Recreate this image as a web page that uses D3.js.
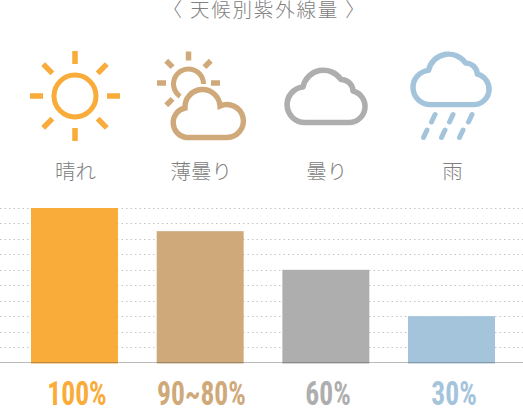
<!DOCTYPE html>
<html><head><meta charset="utf-8">
<script src="https://cdn.jsdelivr.net/npm/d3@7"></script>
<style>html,body{margin:0;padding:0;background:#fff}svg{display:block}</style></head>
<body><div id="c"></div>
<script>
const categories = ["晴れ","薄曇り","曇り","雨"];
const uvValues = [100,85,60,30];
const valueLabels = ["100%","90~80%","60%","30%"];
const colors = ["#f9ac3a","#cfa97a","#aeaeae","#a4c4dc"];
const gridTicks = [10,20,30,40,50,60,70,80,90,100];
const title = "〈 天候別紫外線量 〉";

const W=523,H=413;
const svg=d3.select("#c").append("svg").attr("width",W).attr("height",H);
const jp='"Noto Sans CJK JP","Noto Sans",sans-serif';
const y=d3.scaleLinear().domain([0,100]).range([362.5,208]);
const x=d3.scaleBand().domain(categories).range([31,495]).paddingInner(0.308).paddingOuter(0);

svg.append("g").selectAll("line").data(gridTicks).join("line")
 .attr("x1",0).attr("x2",W).attr("y1",d=>Math.round(y(d))+.5).attr("y2",d=>Math.round(y(d))+.5)
 .attr("stroke","#c4c4c4").attr("stroke-width",1).attr("stroke-dasharray","1.5 3");

svg.append("g").selectAll("rect").data(uvValues).join("rect")
 .attr("x",(d,i)=>x(categories[i])).attr("width",x.bandwidth())
 .attr("y",d=>y(d)).attr("height",d=>y(0)-y(d)+1)
 .attr("fill",(d,i)=>colors[i]);

svg.append("line").attr("x1",0).attr("x2",W).attr("y1",362.5).attr("y2",362.5)
 .attr("stroke","#555").attr("stroke-opacity",.4).attr("stroke-width",1);

svg.append("text").text(title).attr("x",264.5).attr("y",17).attr("text-anchor","middle")
 .attr("font-family",jp).attr("font-weight",300).attr("font-size",19.5).attr("letter-spacing",1.8).attr("fill","#808080");

svg.append("g").selectAll("text").data(categories).join("text").text(d=>d)
 .attr("x",d=>x(d)+x.bandwidth()/2+1).attr("y",179).attr("text-anchor","middle")
 .attr("font-family",jp).attr("font-weight",300).attr("font-size",20.5).attr("fill","#808080");

const lx=[77,201.5,328,454];
svg.append("g").selectAll("text").data(valueLabels).join("text")
 .attr("transform",(d,i)=>`translate(${lx[i]},404.5) scale(0.92,1.1)`)
 .text(d=>d).attr("text-anchor","middle")
 .attr("font-family",'"Liberation Sans Narrow","Roboto Condensed","Liberation Sans",sans-serif')
 .attr("font-weight",700).attr("font-size",30).attr("fill",(d,i)=>colors[i]);

function rays(g,cx,cy,r0,r1,angles,col,w){
 g.selectAll("line").data(angles).join("line")
  .attr("x1",a=>cx+r0*Math.cos(a*Math.PI/180)).attr("y1",a=>cy+r0*Math.sin(a*Math.PI/180))
  .attr("x2",a=>cx+r1*Math.cos(a*Math.PI/180)).attr("y2",a=>cy+r1*Math.sin(a*Math.PI/180))
  .attr("stroke",col).attr("stroke-width",w);
}
// sun
const s=svg.append("g");
rays(s,75,96,32,45,[0,45,90,135,180,225,270,315],colors[0],5.5);
s.append("circle").attr("cx",75).attr("cy",96).attr("r",21).attr("fill","none").attr("stroke",colors[0]).attr("stroke-width",5);

// cloud outline: local units 84 x 57
const cloudPath="M21 54.5 A17.8 17.8 0 0 1 19 19 A21 21 0 0 1 57 11.5 A12 12 0 0 1 69 23 A16 16 0 0 1 65 54.5 Z";
function cloud(cx,cy,sx,sy,col){
 svg.append("path").attr("d",cloudPath).attr("transform",`translate(${cx},${cy}) scale(${sx},${sy})`)
  .attr("fill","#fff").attr("stroke",col).attr("stroke-width",5.6).attr("stroke-linejoin","round");
}
// partly cloudy
const p=svg.append("g");
const arc=d3.arc().innerRadius(12.5).outerRadius(17.5).startAngle(-2.55).endAngle(1.57);
p.append("path").attr("d",arc()).attr("transform","translate(188.5,84)").attr("fill",colors[1]);
rays(p,188.5,83,22.5,31.5,[0,-45,-90,-135,135,180],colors[1],5.5);
const c2="M18 47.5 A15 15 0 0 1 17 18 A17.5 17.5 0 0 1 52 16 A16.5 16.5 0 1 1 59 47.5 Z";
p.append("path").attr("d",c2).attr("transform","translate(168,90)").attr("fill","#fff").attr("stroke",colors[1]).attr("stroke-width",5.4);
// cloud
cloud(284,68,1,1,colors[2]);
// rain
cloud(410,52,.976,.965,colors[3]);
const drops=[[433,114.5],[451,114.5],[470,114.5],[425,130],[443,130],[461,130]];
svg.append("g").selectAll("line").data(drops).join("line")
 .attr("x1",d=>d[0]+2).attr("y1",d=>d[1]).attr("x2",d=>d[0]-1.5).attr("y2",d=>d[1]+7.5)
 .attr("stroke",colors[3]).attr("stroke-width",5).attr("stroke-linecap","round");
</script></body></html>
